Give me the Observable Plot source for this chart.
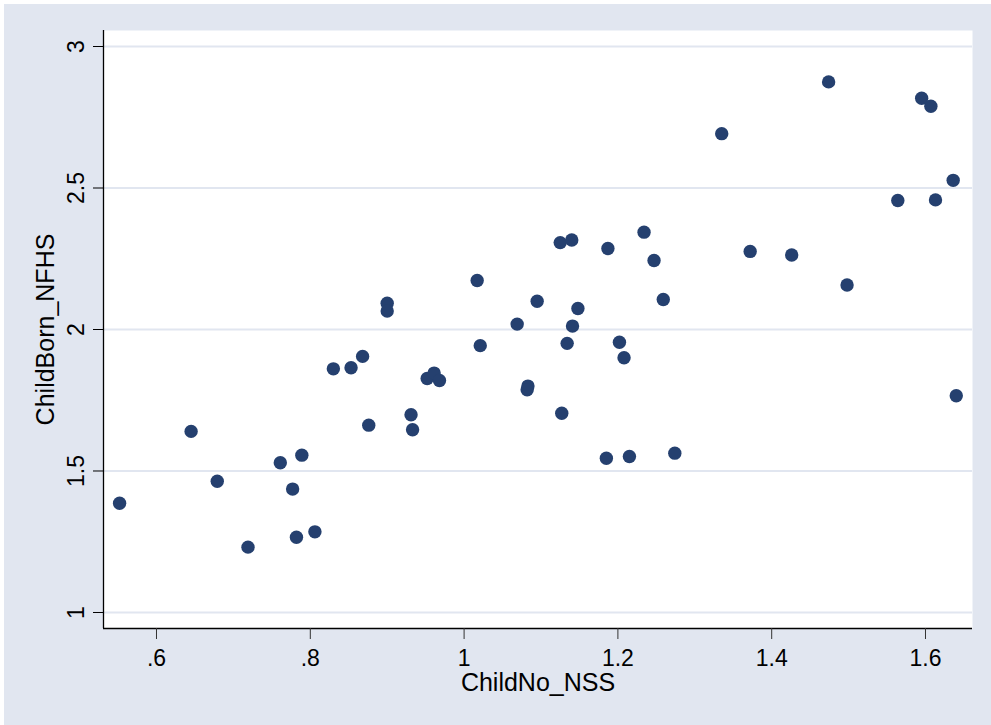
<!DOCTYPE html>
<html>
<head>
<meta charset="utf-8">
<script src="https://cdn.jsdelivr.net/npm/d3@7"></script>
<script src="https://cdn.jsdelivr.net/npm/@observablehq/plot@0.6"></script>
<style>
  html, body { margin: 0; padding: 0; background: #ffffff; }
  #wrap { position: relative; width: 991px; height: 725px; overflow: hidden; }
  #bg { position: absolute; left: 4px; top: 4px; right: 0; bottom: 0; background: #e1e6f0; }
  #chart { position: absolute; left: 0; top: 0; }
  #chart svg { display: block; }
</style>
</head>
<body>
<div id="wrap"><div id="bg"></div><div id="chart"></div></div>
<script>
// X values (ChildNo_NSS)
const childNoNSS = [
  0.552, 0.645, 0.679, 0.719, 0.761, 0.789, 0.777, 0.782, 0.806, 0.830,
  0.853, 0.868, 0.876, 0.900, 0.900, 0.931, 0.933, 0.952, 0.961, 0.968,
  1.017, 1.021, 1.069, 1.083, 1.082, 1.095, 1.125, 1.127, 1.140, 1.134,
  1.141, 1.148, 1.187, 1.185, 1.202, 1.208, 1.215, 1.234, 1.247, 1.259,
  1.274, 1.335, 1.372, 1.426, 1.474, 1.498, 1.564, 1.595, 1.607, 1.613,
  1.636, 1.640
];
// Y values (ChildBorn_NFHS)
const childBornNFHS = [
  1.386, 1.640, 1.464, 1.231, 1.529, 1.556, 1.436, 1.266, 1.285, 1.861,
  1.865, 1.905, 1.662, 2.093, 2.065, 1.699, 1.646, 1.827, 1.846, 1.820,
  2.173, 1.943, 2.019, 1.800, 1.787, 2.100, 2.307, 1.704, 2.316, 1.951,
  2.012, 2.074, 2.286, 1.545, 1.955, 1.900, 1.551, 2.344, 2.244, 2.106,
  1.563, 2.692, 2.276, 2.263, 2.875, 2.157, 2.456, 2.817, 2.789, 2.458,
  2.527, 1.766
];
const xTicks = [0.6, 0.8, 1, 1.2, 1.4, 1.6];
const xTickLabels = [".6", ".8", "1", "1.2", "1.4", "1.6"];
const yTicks = [1, 1.5, 2, 2.5, 3];
const yTickLabels = ["1", "1.5", "2", "2.5", "3"];
const xTitle = "ChildNo_NSS";
const yTitle = "ChildBorn_NFHS";

const xDomain = [0.53108, 1.66112];
const yDomain = [0.94346, 3.05654];

const data = childNoNSS.map((x, i) => ({x, y: childBornNFHS[i]}));
const font = "'Liberation Sans', Arial, Helvetica, sans-serif";
const gridColor = "#e1e6f0";
const dotColor = "#25406f";

const chart = Plot.plot({
  width: 991,
  height: 725,
  marginLeft: 103,
  marginRight: 19,
  marginTop: 30,
  marginBottom: 97,
  style: { background: "transparent", fontFamily: font, color: "#000" },
  x: { domain: xDomain },
  y: { domain: yDomain },
  marks: [
    Plot.frame({ fill: "#ffffff", stroke: null }),
    Plot.gridY(yTicks, { stroke: gridColor, strokeOpacity: 1, strokeWidth: 2 }),
    Plot.dot(data, { x: "x", y: "y", r: 6.7, fill: dotColor, stroke: null }),
    Plot.ruleX([xDomain[0]], { stroke: "#000", strokeWidth: 1.3 }),
    Plot.ruleY([yDomain[0]], { stroke: "#000", strokeWidth: 1.3 }),
    Plot.axisX(xTicks, {
      anchor: "bottom", tickSize: 11, tickPadding: 10, fontSize: 23,
      tickFormat: (d) => xTickLabels[xTicks.indexOf(d)],
      stroke: "#333", label: null
    }),
    Plot.axisY(yTicks, {
      anchor: "left", tickSize: 10, tickPadding: 10, fontSize: 23, tickRotate: -90,
      tickFormat: (d) => yTickLabels[yTicks.indexOf(d)],
      stroke: "#000", label: null
    }),
    Plot.text([xTitle], { frameAnchor: "bottom", textAnchor: "middle", lineAnchor: "top", dy: 45, fontSize: 25, fill: "#000" }),
    Plot.text([yTitle], { frameAnchor: "left", textAnchor: "middle", lineAnchor: "top", rotate: -90, dx: -67, fontSize: 25, fill: "#000" })
  ]
});
document.getElementById("chart").appendChild(chart);
</script>
</body>
</html>
